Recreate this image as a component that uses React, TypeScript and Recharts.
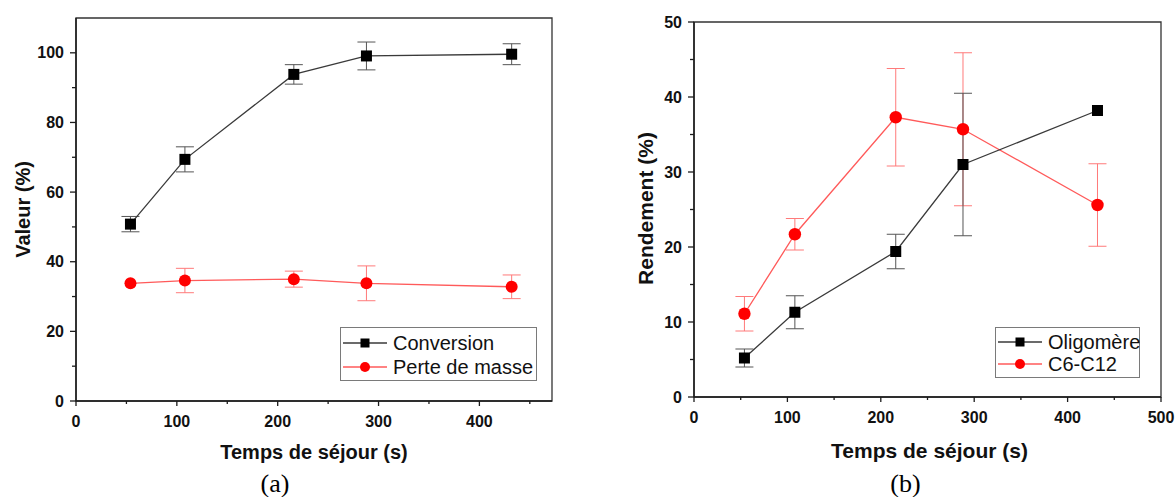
import { LineChart, Line, XAxis, YAxis, ErrorBar, Legend, Label, ReferenceArea } from 'recharts';

// residence times (s) shared by every series
const residenceTimes = [54, 108, 216, 288, 432];

// (a)
const conversion = [50.8, 69.4, 93.8, 99.1, 99.6];
const conversionErr = [2.2, 3.6, 2.8, 4.0, 3.0];
const massLoss = [33.8, 34.6, 35.0, 33.8, 32.8];
const massLossErr = [0, 3.5, 2.3, 5.0, 3.4];

// (b)
const oligomer = [5.2, 11.3, 19.4, 31.0, 38.2];
const oligomerErr = [1.2, 2.2, 2.3, 9.5, 0];
const c6c12 = [11.1, 21.7, 37.3, 35.7, 25.6];
const c6c12Err = [2.3, 2.1, 6.5, 10.2, 5.5];

const xTicksA = [0, 50, 100, 150, 200, 250, 300, 350, 400, 450];
const yTicksA = [0, 10, 20, 30, 40, 50, 60, 70, 80, 90, 100];
const xTicksB = [0, 50, 100, 150, 200, 250, 300, 350, 400, 450, 500];
const yTicksB = [0, 5, 10, 15, 20, 25, 30, 35, 40, 45, 50];

const dataA = residenceTimes.map((t, i) => ({
  t, conv: conversion[i], convErr: conversionErr[i], loss: massLoss[i], lossErr: massLossErr[i],
}));
const dataB = residenceTimes.map((t, i) => ({
  t, olig: oligomer[i], oligErr: oligomerErr[i], c612: c6c12[i], c612Err: c6c12Err[i],
}));

const AXIS = '#1c1c1c';
const SANS = '"Liberation Sans", Arial, sans-serif';
const BLACK_LINE = '#3a3a3a';
const RED_LINE = '#ff5a5a';
const RED = '#ff0000';
const BLACK_ERR = '#555';
const RED_ERR = '#ff7a7a';

const tickText = { fontFamily: SANS, fontWeight: 700, fontSize: 16, fill: '#111' };

// ticks are drawn by hand so minor ticks get no label and a shorter line
function makeXTick(step: number) {
  return ({ x, y, payload }: any) => {
    const major = payload.value % step === 0;
    return (
      <g>
        <line x1={x} y1={y} x2={x} y2={y + (major ? 5 : 3)} stroke={AXIS} strokeWidth={1.3} />
        {major && (
          <text x={x} y={y + 20} textAnchor="middle" dominantBaseline="central" style={tickText}>
            {payload.value}
          </text>
        )}
      </g>
    );
  };
}

function makeYTick(step: number) {
  return ({ x, y, payload }: any) => {
    const major = payload.value % step === 0;
    return (
      <g>
        <line x1={x} y1={y} x2={x - (major ? 6 : 4)} y2={y} stroke={AXIS} strokeWidth={1.3} />
        {major && (
          <text x={x - 12} y={y} textAnchor="end" dominantBaseline="central" style={tickText}>
            {payload.value}
          </text>
        )}
      </g>
    );
  };
}

const squareDot = (size: number, fill: string) => (p: any) => (
  <rect key={`sq-${p.index}`} x={p.cx - size / 2} y={p.cy - size / 2} width={size} height={size} fill={fill} />
);
const circleDot = (r: number, fill: string) => (p: any) => (
  <circle key={`ci-${p.index}`} cx={p.cx} cy={p.cy} r={r} fill={fill} />
);

function AxisTitle({ viewBox, text, cx, cy, size = 20, vertical = false }: any) {
  const x = vertical ? viewBox.x + cx : viewBox.x + viewBox.width / 2 + cx;
  const y = vertical ? viewBox.y + viewBox.height / 2 + cy : viewBox.y + cy;
  return (
    <text
      x={x}
      y={y}
      textAnchor="middle"
      dominantBaseline="central"
      transform={vertical ? `rotate(-90 ${x} ${y})` : undefined}
      style={{ fontFamily: SANS, fontWeight: 700, fontSize: size, fill: '#111' }}
    >
      {text}
    </text>
  );
}

function Caption({ viewBox, text, dx, dy }: any) {
  return (
    <text
      x={viewBox.x + viewBox.width / 2 + dx}
      y={viewBox.y + dy}
      textAnchor="middle"
      dominantBaseline="central"
      style={{ fontFamily: '"Liberation Serif", "Times New Roman", serif', fontSize: 26, fill: '#000' }}
    >
      {text}
    </text>
  );
}

type SeriesStyle = { name: string; line: string; marker: 'square' | 'circle'; fill: string };

function LegendBox({ series, w, h, rowY, fontSize }: { series: SeriesStyle[]; w: number; h: number; rowY: number[]; fontSize: number }) {
  return (
    <svg width={w} height={h} style={{ display: 'block' }}>
      <rect x={0.5} y={0.5} width={w - 1} height={h - 1} fill="#fff" stroke="#7a7a7a" strokeWidth={1} />
      {series.map((s, i) => (
        <g key={s.name}>
          <line x1={3} y1={rowY[i]} x2={47} y2={rowY[i]} stroke={s.line} strokeWidth={1.3} />
          {s.marker === 'square'
            ? <rect x={25 - 4.5} y={rowY[i] - 4.5} width={9} height={9} fill={s.fill} />
            : <circle cx={25} cy={rowY[i]} r={5} fill={s.fill} />}
          <text x={53} y={rowY[i]} dominantBaseline="central" style={{ fontFamily: SANS, fontSize, fill: '#111' }}>
            {s.name}
          </text>
        </g>
      ))}
    </svg>
  );
}

const legendA: SeriesStyle[] = [
  { name: 'Conversion', line: BLACK_LINE, marker: 'square', fill: '#000' },
  { name: 'Perte de masse', line: RED_LINE, marker: 'circle', fill: RED },
];
const legendB: SeriesStyle[] = [
  { name: 'Oligomère', line: BLACK_LINE, marker: 'square', fill: '#000' },
  { name: 'C6-C12', line: RED_LINE, marker: 'circle', fill: RED },
];

// error bars ride on invisible lines drawn before the visible ones
function errLine(dataKey: string, errKey: string, color: string) {
  return (
    <Line
      key={`err-${dataKey}`} dataKey={dataKey} stroke="none" dot={false} activeDot={false}
      legendType="none" isAnimationActive={false}
    >
      <ErrorBar dataKey={errKey} width={9} stroke={color} strokeWidth={1} direction="y" />
    </Line>
  );
}

const lineProps: any = { strokeWidth: 1.3, activeDot: false, isAnimationActive: false };

function ChartA() {
  return (
    <LineChart width={570} height={497} data={dataA} margin={{ top: 18, right: 18, left: 0, bottom: 0 }}>
      <ReferenceArea x1={0} x2={472} y1={0} y2={110} fill="none" stroke="#333" strokeWidth={1.3} ifOverflow="visible" />
      <XAxis
        dataKey="t" type="number" domain={[0, 472]} ticks={xTicksA} interval={0} allowDataOverflow
        height={96} tickSize={0} tickMargin={0} tick={makeXTick(100)}
        axisLine={{ stroke: AXIS, strokeWidth: 1.5 }}
      >
        <Label content={<AxisTitle text="Temps de séjour (s)" cx={0} cy={51} />} />
        <Label content={<Caption text="(a)" dx={-39} dy={82} />} />
      </XAxis>
      <YAxis
        type="number" domain={[0, 110]} ticks={yTicksA} interval={0} allowDataOverflow
        width={76} tickSize={0} tickMargin={0} tick={makeYTick(20)}
        axisLine={{ stroke: AXIS, strokeWidth: 1.5 }}
      >
        <Label content={<AxisTitle text="Valeur (%)" cx={23} cy={0} vertical />} />
      </YAxis>
      <Legend
        layout="vertical" align="center" verticalAlign="middle"
        wrapperStyle={{ left: 340, top: 327, width: 197, height: 54 }}
        content={() => <LegendBox series={legendA} w={197} h={54} rowY={[16, 40]} fontSize={20} />}
      />
      {errLine('conv', 'convErr', BLACK_ERR)}
      {errLine('loss', 'lossErr', RED_ERR)}
      <Line dataKey="conv" name="Conversion" stroke={BLACK_LINE} dot={squareDot(11, '#000')} {...lineProps} />
      <Line dataKey="loss" name="Perte de masse" stroke={RED_LINE} dot={circleDot(6, RED)} {...lineProps} />
    </LineChart>
  );
}

function ChartB() {
  return (
    <LineChart width={556} height={497} data={dataB} margin={{ top: 22, right: 15, left: 0, bottom: 0 }}>
      <ReferenceArea x1={0} x2={500} y1={0} y2={50} fill="none" stroke="#333" strokeWidth={1.3} ifOverflow="visible" />
      <XAxis
        dataKey="t" type="number" domain={[0, 500]} ticks={xTicksB} interval={0} allowDataOverflow
        height={100} tickSize={0} tickMargin={0} tick={makeXTick(100)}
        axisLine={{ stroke: AXIS, strokeWidth: 1.5 }}
      >
        <Label content={<AxisTitle text="Temps de séjour (s)" cx={2} cy={53} size={21} />} />
        <Label content={<Caption text="(b)" dx={-22} dy={86} />} />
      </XAxis>
      <YAxis
        type="number" domain={[0, 50]} ticks={yTicksB} interval={0} allowDataOverflow
        width={74} tickSize={0} tickMargin={0} tick={makeYTick(10)}
        axisLine={{ stroke: AXIS, strokeWidth: 1.5 }}
      >
        <Label content={<AxisTitle text="Rendement (%)" cx={25} cy={-1} size={21} vertical />} />
      </YAxis>
      <Legend
        layout="vertical" align="center" verticalAlign="middle"
        wrapperStyle={{ left: 375, top: 327, width: 145, height: 51 }}
        content={() => <LegendBox series={legendB} w={145} h={51} rowY={[15, 37]} fontSize={20} />}
      />
      {errLine('c612', 'c612Err', RED_ERR)}
      {errLine('olig', 'oligErr', BLACK_ERR)}
      <Line dataKey="c612" name="C6-C12" stroke={RED_LINE} dot={circleDot(6.2, RED)} {...lineProps} />
      <Line dataKey="olig" name="Oligomère" stroke={BLACK_LINE} dot={squareDot(11, '#000')} {...lineProps} />
    </LineChart>
  );
}

export default function App() {
  return (
    <div style={{ position: 'absolute', left: 0, top: 0, width: 1176, height: 497, background: '#fff', overflow: 'hidden' }}>
      <div style={{ position: 'absolute', left: 0, top: 0 }}>
        <ChartA />
      </div>
      <div style={{ position: 'absolute', left: 620, top: 0 }}>
        <ChartB />
      </div>
    </div>
  );
}
